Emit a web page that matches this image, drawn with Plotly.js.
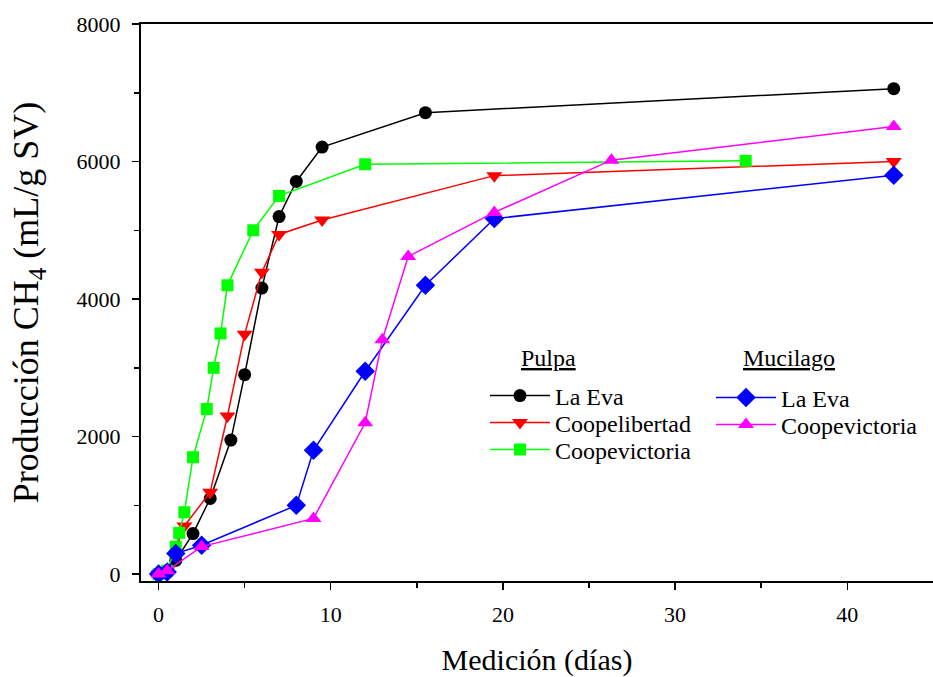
<!DOCTYPE html>
<html>
<head>
<meta charset="utf-8">
<script src="https://cdn.plot.ly/plotly-3.0.1.min.js"></script>
<style>html,body{margin:0;padding:0;background:#fff;}#chart{width:933px;height:677px;}</style>
</head>
<body>
<div id="chart"></div>
<script>
// Pulpa - La Eva
const pulpaLaEvaX = [0, 0.5, 1, 2, 3, 4.2, 5, 6, 7, 8, 9.5, 15.5, 42.7];
const pulpaLaEvaY = [0, 50, 200, 590, 1100, 1950, 2900, 4160, 5200, 5710, 6210, 6710, 7060];
// Pulpa - Coopelibertad
const pulpaCoopelibX = [0, 0.5, 1.5, 3, 4, 5, 6, 7, 9.5, 19.5, 42.7];
const pulpaCoopelibY = [0, 50, 700, 1190, 2300, 3490, 4390, 4940, 5150, 5795, 6000];
// Pulpa - Coopevictoria
const pulpaCoopevicX = [0, 0.5, 1, 1.2, 1.5, 2, 2.8, 3.2, 3.6, 4, 5.5, 7, 12, 34.1];
const pulpaCoopevicY = [0, 50, 400, 600, 900, 1700, 2400, 3000, 3500, 4200, 5000, 5500, 5960, 6010];
// Mucilago - La Eva
const mucLaEvaX = [0, 0.5, 1, 2.5, 8, 9, 12, 15.5, 19.5, 42.7];
const mucLaEvaY = [0, 30, 300, 420, 1000, 1800, 2950, 4200, 5170, 5800];
// Mucilago - Coopevictoria
const mucCoopevicX = [0, 0.5, 2.5, 9, 12, 13, 14.5, 19.5, 26.3, 42.7];
const mucCoopevicY = [0, 50, 400, 810, 2200, 3410, 4620, 5260, 6020, 6510];

const xTicks = [0, 10, 20, 30, 40];
const yTicks = [0, 2000, 4000, 6000, 8000];
const groupTitles = ['Pulpa', 'Mucilago'];

const FONT = '"Liberation Serif", "Times New Roman", Times, serif';

function tr(name, x, y, color, symbol, size, legend) {
  return {
    type: 'scatter', mode: 'lines+markers', name: name, x: x, y: y,
    line: {color: color, width: 1.5},
    marker: {color: color, symbol: symbol, size: size, line: {width: 0}},
    legend: legend
  };
}

const data = [
  tr('La Eva', pulpaLaEvaX, pulpaLaEvaY, '#000000', 'circle', 13, 'legend'),
  tr('Coopelibertad', pulpaCoopelibX, pulpaCoopelibY, '#ff0000', 'triangle-down', 14, 'legend2'),
  tr('Coopevictoria', pulpaCoopevicX, pulpaCoopevicY, '#00ff00', 'square', 12, 'legend3'),
  tr('La Eva', mucLaEvaX, mucLaEvaY, '#0000ff', 'diamond', 15, 'legend4'),
  tr('Coopevictoria', mucCoopevicX, mucCoopevicY, '#ff00ff', 'triangle-up', 14, 'legend5')
];

function leg(x, py) {
  return {
    bgcolor: 'rgba(0,0,0,0)', borderwidth: 0,
    font: {family: FONT, size: 24, color: '#000'},
    itemwidth: 60, xanchor: 'left', yanchor: 'middle',
    x: x, y: (581 - py) / 557
  };
}

const layout = {
  width: 933, height: 677,
  margin: {l: 141, r: 0, t: 24, b: 96},
  paper_bgcolor: '#fff', plot_bgcolor: '#fff',
  font: {family: FONT, color: '#000'},
  showlegend: true,
  xaxis: {
    range: [-1.02, 44.98],
    tickvals: xTicks, ticktext: xTicks.map(String),
    ticks: 'outside', ticklen: 7, tickwidth: 1.5, tickcolor: '#000',
    minor: {tickvals: [5, 15, 25, 35], ticks: 'outside', ticklen: 5, tickwidth: 1.5, tickcolor: '#000'},
    showline: true, linecolor: '#000', linewidth: 2, mirror: true,
    showgrid: false, zeroline: false,
    tickfont: {family: FONT, size: 22, color: '#000'},
    ticklabelstandoff: 6,
    title: {text: 'Medición (días)', font: {family: FONT, size: 30, color: '#000'}, standoff: 25},
    automargin: false
  },
  yaxis: {
    range: [-100, 8000],
    tickvals: yTicks, ticktext: yTicks.map(String),
    ticks: 'outside', ticklen: 7, tickwidth: 1.5, tickcolor: '#000',
    minor: {tickvals: [1000, 3000, 5000, 7000], ticks: 'outside', ticklen: 5, tickwidth: 1.5, tickcolor: '#000'},
    showline: true, linecolor: '#000', linewidth: 2,
    showgrid: false, zeroline: false,
    tickfont: {family: FONT, size: 22, color: '#000'},
    ticklabelstandoff: 7,
    title: {text: 'Producción CH<sub>4</sub> (mL/g SV)', font: {family: FONT, size: 36, color: '#000'}, standoff: 27},
    automargin: false
  },
  legend: leg(0.4343, 396),
  legend2: leg(0.4343, 423),
  legend3: leg(0.4343, 450),
  legend4: leg(0.7197, 398),
  legend5: leg(0.7197, 425),
  annotations: [
    {xref: 'paper', yref: 'paper', x: (519 - 141) / 792, y: (581 - 358) / 557, xanchor: 'left', yanchor: 'middle',
     text: '<u>' + groupTitles[0] + '</u>', showarrow: false, font: {family: FONT, size: 24, color: '#000'}},
    {xref: 'paper', yref: 'paper', x: (741 - 141) / 792, y: (581 - 358) / 557, xanchor: 'left', yanchor: 'middle',
     text: '<u>' + groupTitles[1] + '</u>', showarrow: false, font: {family: FONT, size: 24, color: '#000'}}
  ]
};

Plotly.newPlot('chart', data, layout, {displayModeBar: false, staticPlot: true});
</script>
</body>
</html>
